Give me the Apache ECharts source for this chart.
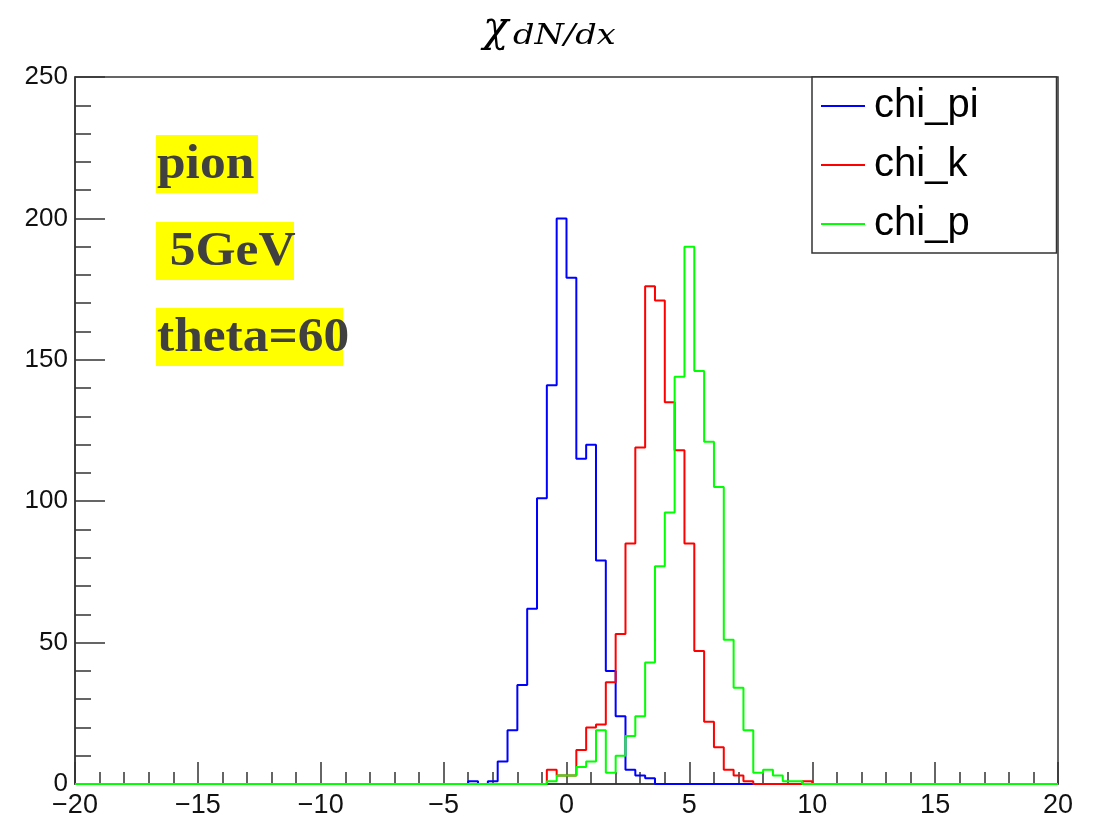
<!DOCTYPE html>
<html>
<head>
<meta charset="utf-8">
<script src="https://cdn.jsdelivr.net/npm/echarts@6/dist/echarts.min.js"></script>
<style>
  html, body { margin: 0; padding: 0; background: #fff; }
  #chart { width: 1101px; height: 819px; }
</style>
</head>
<body>
<div id="chart"></div>
<script>
// histogram binning: 100 bins of 0.4 from -20 to 20
var binMin = -20;
var binWidth = 0.4;

// bin contents, 20 bins per row
var chiPi = [
  0,0,0,0,0,0,0,0,0,0,0,0,0,0,0,0,0,0,0,0,
  0,0,0,0,0,0,0,0,0,0,0,0,0,0,0,0,0,0,0,0,
  1,0,1,8,19,35,62,101,141,200,179,115,120,79,40,24,5,3,2,0,
  0,0,0,0,0,0,0,0,0,0,0,0,0,0,0,0,0,0,0,0,
  0,0,0,0,0,0,0,0,0,0,0,0,0,0,0,0,0,0,0,0
];
var chiK = [
  0,0,0,0,0,0,0,0,0,0,0,0,0,0,0,0,0,0,0,0,
  0,0,0,0,0,0,0,0,0,0,0,0,0,0,0,0,0,0,0,0,
  0,0,0,0,0,0,0,0,5,3,3,12,20,21,36,53,85,119,176,171,
  135,118,85,47,22,13,5,3,1,0,0,0,0,0,1,0,0,0,0,0,
  0,0,0,0,0,0,0,0,0,0,0,0,0,0,0,0,0,0,0,0
];
var chiP = [
  0,0,0,0,0,0,0,0,0,0,0,0,0,0,0,0,0,0,0,0,
  0,0,0,0,0,0,0,0,0,0,0,0,0,0,0,0,0,0,0,0,
  0,0,0,0,0,0,0,0,1,3,3,6,8,19,4,10,17,24,43,77,
  96,144,190,146,121,105,51,34,19,4,5,3,1,1,0,0,0,0,0,0,
  0,0,0,0,0,0,0,0,0,0,0,0,0,0,0,0,0,0,0,0
];

var seriesNames = ['chi_pi', 'chi_k', 'chi_p'];
var seriesColors = ['#0000ff', '#ff0000', '#00ff00'];
var notes = ['pion', ' 5GeV', 'theta=60'];

// left edge of every bin + closing point at the last edge
function toSteps(counts) {
  var pts = [];
  for (var i = 0; i < counts.length; i++) {
    pts.push([binMin + i * binWidth, counts[i]]);
  }
  pts.push([binMin + counts.length * binWidth, counts[counts.length - 1]]);
  return pts;
}

var axisColor = '#333';
var myChart = echarts.init(document.getElementById('chart'));

var series = [chiPi, chiK, chiP].map(function (d, i) {
  return {
    name: seriesNames[i],
    type: 'line',
    step: 'end',
    symbol: 'none',
    data: toSteps(d),
    lineStyle: { color: seriesColors[i], width: 2 },
    itemStyle: { color: seriesColors[i] }
  };
});

var noteBoxes = [
  { y: 135, w: 102 },
  { y: 222, w: 138 },
  { y: 308, w: 187 }
];
var graphics = [];
notes.forEach(function (t, i) {
  graphics.push({
    type: 'rect',
    shape: { x: 156, y: noteBoxes[i].y, width: noteBoxes[i].w, height: 58 },
    style: { fill: '#ffff00' },
    z: 10
  });
  graphics.push({
    type: 'text',
    x: 157, y: noteBoxes[i].y + 30,
    scaleX: 1.05,
    style: {
      text: t,
      font: 'bold 49px "Liberation Serif"',
      fill: '#404040',
      verticalAlign: 'middle'
    },
    z: 11
  });
});
// title chi_{dN/dx}
graphics.push({
  type: 'text', x: 483, y: 9,
  style: { text: 'χ', font: 'italic 42px "DejaVu Serif"', fill: '#000', verticalAlign: 'top' }
});
graphics.push({
  type: 'text', x: 513, y: 23,
  scaleX: 1.2,
  style: { text: 'dN/dx', font: 'italic 28px "DejaVu Serif"', fill: '#000', verticalAlign: 'top' }
});

myChart.setOption({
  animation: false,
  backgroundColor: '#fff',
  grid: {
    left: 75,
    right: 43,
    top: 77,
    bottom: 34,
    show: true,
    borderColor: axisColor,
    borderWidth: 1.5
  },
  legend: {
    data: seriesNames,
    orient: 'vertical',
    left: 812,
    top: 77,
    borderColor: axisColor,
    borderWidth: 1.5,
    backgroundColor: '#fff',
    padding: [9, 78, 9, 9],
    icon: 'rect',
    itemWidth: 44,
    itemHeight: 2,
    itemGap: 19,
    textStyle: {
      fontFamily: '"Liberation Sans", Arial',
      fontSize: 40,
      color: '#000',
      lineHeight: 40,
      padding: [0, 0, 0, 4]
    }
  },
  xAxis: {
    type: 'value',
    min: -20,
    max: 20,
    interval: 5,
    axisLine: { onZero: false, lineStyle: { color: axisColor, width: 1.5 } },
    axisTick: { inside: true, length: 22, lineStyle: { color: axisColor, width: 1.5 } },
    minorTick: { show: true, splitNumber: 5, length: 12, lineStyle: { color: axisColor, width: 1.5 } },
    splitLine: { show: false },
    axisLabel: {
      fontFamily: '"Liberation Sans", Arial',
      fontSize: 27,
      color: '#111',
      margin: 8,
      formatter: function (v) { return String(v).replace('-', '\u2212'); }
    }
  },
  yAxis: {
    type: 'value',
    min: 0,
    max: 250,
    interval: 50,
    axisLine: { show: true, onZero: false, lineStyle: { color: axisColor, width: 1.5 } },
    axisTick: { show: true, inside: true, length: 30, lineStyle: { color: axisColor, width: 1.5 } },
    minorTick: { show: true, splitNumber: 5, length: 16, lineStyle: { color: axisColor, width: 1.5 } },
    splitLine: { show: false },
    axisLabel: {
      fontFamily: '"Liberation Sans", Arial',
      fontSize: 26,
      color: '#111',
      margin: 7
    }
  },
  graphic: graphics,
  series: series
});
</script>
</body>
</html>
